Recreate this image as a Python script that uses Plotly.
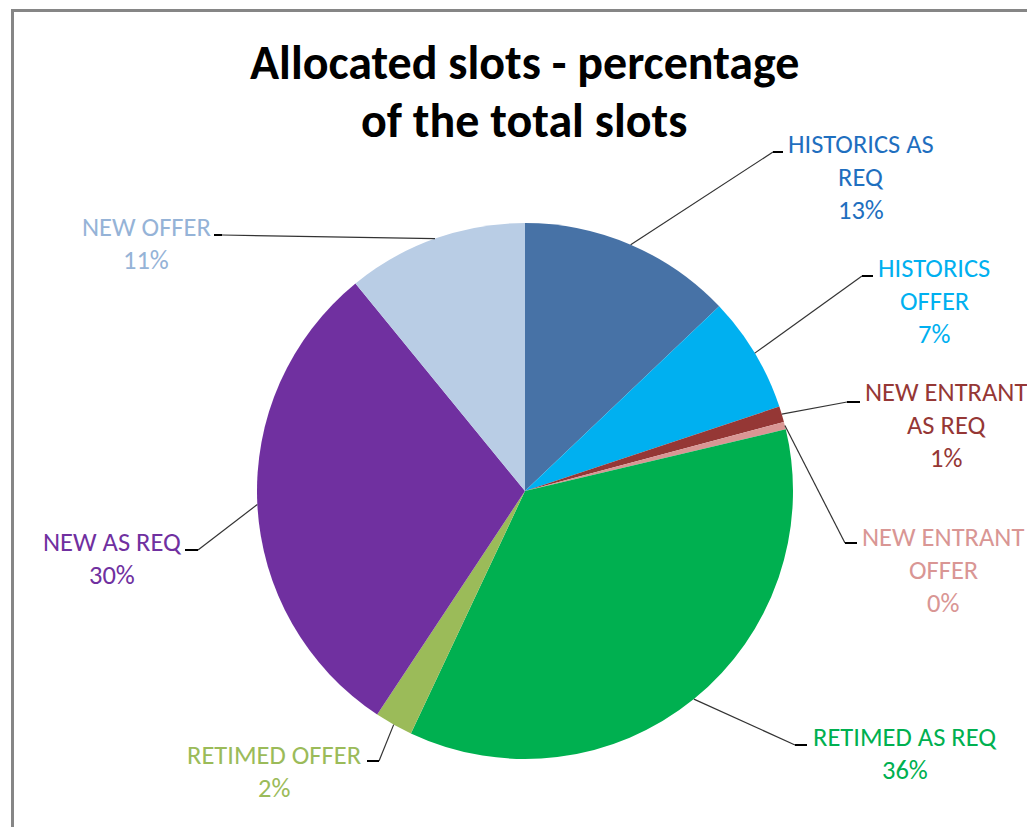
import math
import plotly.graph_objects as go

# slice data, clockwise from 12 o'clock
labels = [
    "HISTORICS AS REQ",
    "HISTORICS OFFER",
    "NEW ENTRANT AS REQ",
    "NEW ENTRANT OFFER",
    "RETIMED AS REQ",
    "RETIMED OFFER",
    "NEW AS REQ",
    "NEW OFFER",
]
values = [12.9, 7.0, 0.95, 0.45, 35.7, 2.3, 29.8, 10.9]
slice_colors = ["#4772A6", "#00B0F0", "#953735", "#D99694",
                "#00B050", "#9BBB59", "#7030A0", "#B9CDE5"]
text_colors = ["#1F6FBF", "#00B0F0", "#953735", "#D99694",
               "#00B050", "#9BBB59", "#7030A0", "#95B3D7"]
label_lines = [
    ["HISTORICS AS", "REQ"],
    ["HISTORICS", "OFFER"],
    ["NEW ENTRANT", "AS REQ"],
    ["NEW ENTRANT", "OFFER"],
    ["RETIMED AS REQ"],
    ["RETIMED OFFER"],
    ["NEW AS REQ"],
    ["NEW OFFER"],
]

# page body has an 8px margin, so the figure is drawn from (8, 8)
OFF = 8
W, H = 1035 - OFF, 827 - OFF
CX, CY, R = 525, 491, 268

# label layout (window pixels): text centre x, first line y, elbow point, line end
label_pos = [
    (861, 144, (773, 152), (783, 152)),
    (934, 268, (862, 276), (873, 276)),
    (946, 392, (847, 402), (860, 402)),
    (943, 537, (845, 543), (857, 543)),
    (905, 737, (795, 745), (807, 745)),
    (274, 755, (379, 761), (367, 761)),
    (112, 542, (198, 550), (185, 550)),
    (146, 227, (222, 235), (214, 235)),
]
LINE_GAP = 33
FONT = "Calibri, Carlito, Roboto"


def px(x):
    return (x - OFF) / W


def py(y):
    return 1 - (y - OFF) / H


fig = go.Figure()
fig.add_trace(go.Pie(
    labels=labels,
    values=values,
    sort=False,
    direction="clockwise",
    rotation=0,
    marker=dict(colors=slice_colors, line=dict(width=0)),
    textinfo="none",
    hoverinfo="label+percent",
    showlegend=False,
    domain=dict(x=[px(CX - R), px(CX + R)], y=[py(CY + R), py(CY - R)]),
))

total = sum(values)
shapes = []
annotations = []
cum = 0
for i, v in enumerate(values):
    mid = (cum + v / 2) / total * 2 * math.pi
    cum += v
    ex = CX + R * math.sin(mid)
    ey = CY - R * math.cos(mid)
    tx, ty, elbow, end = label_pos[i]
    shapes.append(dict(
        type="path", xref="paper", yref="paper",
        path=f"M {px(ex)},{py(ey)} L {px(elbow[0])},{py(elbow[1])}",
        line=dict(color="#333333", width=1.2),
    ))
    shapes.append(dict(
        type="line", xref="paper", yref="paper",
        x0=px(elbow[0]), y0=py(elbow[1]), x1=px(end[0]), y1=py(end[1]),
        line=dict(color="#000000", width=2),
    ))
    pct = f"{int(v / total * 100 + 0.5)}%"
    for j, txt in enumerate(label_lines[i] + [pct]):
        annotations.append(dict(
            text=txt, x=px(tx), y=py(ty + j * LINE_GAP),
            xref="paper", yref="paper", xanchor="center", yanchor="middle",
            showarrow=False,
            font=dict(family=FONT, size=26.5, color=text_colors[i]),
        ))

# title
for j, txt in enumerate(["Allocated slots - percentage", "of the total slots"]):
    annotations.append(dict(
        text=f"<b>{txt}</b>", x=px(524), y=py(63 + j * 58),
        xref="paper", yref="paper", xanchor="center", yanchor="middle",
        showarrow=False,
        font=dict(family=FONT, size=48, color="#000000"),
    ))

# chart area border (only top and left edges fall inside the picture)
shapes.append(dict(
    type="rect", xref="paper", yref="paper",
    x0=px(12.5), y0=-0.05, x1=1.05, y1=py(10.5),
    line=dict(color="#868686", width=3), fillcolor="rgba(0,0,0,0)",
))

fig.update_layout(
    width=W, height=H,
    margin=dict(l=0, r=0, t=0, b=0),
    paper_bgcolor="white",
    plot_bgcolor="white",
    shapes=shapes,
    annotations=annotations,
)

fig.write_html("out.html")
